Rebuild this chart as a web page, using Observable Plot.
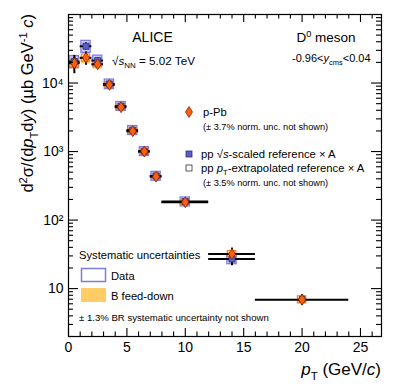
<!DOCTYPE html>
<html><head><meta charset="utf-8">
<script src="https://cdn.jsdelivr.net/npm/d3@7"></script>
<script src="https://cdn.jsdelivr.net/npm/@observablehq/plot@0.6"></script>
<style>body{margin:0;background:#fff} svg{display:block}</style>
</head><body><div id="chart"></div>
<script>
// ---- data ----
const ptCenter = [0.5, 1.5, 2.5, 3.5, 4.5, 5.5, 6.5, 7.5, 10, 14, 20];
const ptLow    = [0, 1, 2, 3, 4, 5, 6, 7, 8, 12, 16];
const ptHigh   = [1, 2, 3, 4, 5, 6, 7, 8, 12, 16, 24];
const pPbValue   = [19500, 23300, 18800, 9400, 4440, 1980, 1000, 431, 182, 32, 6.9];
const pPbStatRel = [0.30, 0.22, 0.12, 0.08, 0.06, 0.05, 0.06, 0.08, 0.07, 0.22, 0.18];
const pPbSysRel  = [0.12, 0.12, 0.10, 0.09, 0.09, 0.09, 0.09, 0.09, 0.09, 0.10, 0.12];
const feedDownLowRel  = [0.18, 0.18, 0.15, 0.14, 0.12, 0.10, 0.10, 0.10, 0.10, 0.10, 0.10];
const feedDownHighRel = [0.06, 0.06, 0.05, 0.04, 0.04, 0.04, 0.04, 0.04, 0.04, 0.04, 0.04];

const ppScaledPt    = [0.5, 1.5, 2.5, 3.5, 4.5, 5.5, 6.5, 7.5, 10, 14];
const ppScaledLow   = [0, 1, 2, 3, 4, 5, 6, 7, 8, 12];
const ppScaledHigh  = [1, 2, 3, 4, 5, 6, 7, 8, 12, 16];
const ppScaledValue = [20600, 34400, 21300, 9700, 4600, 2050, 1010, 440, 186, 27];
const ppScaledStatRel = [0.15, 0.12, 0.08, 0.06, 0.05, 0.05, 0.06, 0.07, 0.07, 0.20];
const ppScaledSysRel  = [0.20, 0.20, 0.18, 0.16, 0.15, 0.15, 0.15, 0.15, 0.15, 0.16];

const ppExtrapPt    = [20];
const ppExtrapValue = [7.0];

const xTicks = [0, 5, 10, 15, 20, 25];
const xTickLabels = ["0", "5", "10", "15", "20", "25"];
const yTicks = [10, 100, 1000, 10000];
const yTickLabels = ["10", "10²", "10³", "10⁴"];

// ---- tables ----
const pPb = ptCenter.map((c, i) => ({c, lo: ptLow[i], hi: ptHigh[i], v: pPbValue[i],
  stat: pPbStatRel[i], sys: pPbSysRel[i], fdl: feedDownLowRel[i], fdh: feedDownHighRel[i]}));
const pp = ppScaledPt.map((c, i) => ({c, lo: ppScaledLow[i], hi: ppScaledHigh[i], v: ppScaledValue[i],
  stat: ppScaledStatRel[i], sys: ppScaledSysRel[i]}));
const ppEx = ppExtrapPt.map((c, i) => ({c, v: ppExtrapValue[i]}));

const W = 399, H = 387, mL = 68, mR = 18, mT = 14, mB = 51;
const plotW = W - mL - mR, plotH = H - mT - mB;
const xMinor = d3.range(0, 27).filter(d => d % 5 !== 0);
const yMinor = [];
for (const dec of [1, 10, 100, 1000, 10000]) for (let k = 2; k <= 9; k++) { const v = k * dec; if (v >= 2 && v <= 1e5) yMinor.push(v); }

const tallDiamond = {draw(ctx, size) { const s = Math.sqrt(size); const w = s * 0.45, h = s * 0.7;
  ctx.moveTo(0, -h); ctx.lineTo(w, 0); ctx.lineTo(0, h); ctx.lineTo(-w, 0); ctx.closePath(); }};

const bw = 0.4; // half width of systematic boxes (pT units)
const font = "'Liberation Sans', Arial, Helvetica, sans-serif";

const chart = Plot.plot({
  width: W, height: H,
  marginLeft: mL, marginRight: mR, marginTop: mT, marginBottom: mB,
  style: {fontFamily: font, fontSize: "14px", color: "black", background: "white"},
  x: {domain: [0, 26.8]},
  y: {type: "log", domain: [2, 1e5]},
  marks: [
    Plot.rect(pPb, {x1: d => d.c - bw, x2: d => d.c + bw, y1: d => d.v * (1 - d.fdl), y2: d => d.v * (1 + d.fdh), fill: "#ffcc66"}),
    Plot.rect(pp, {x1: d => d.c - bw, x2: d => d.c + bw, y1: d => d.v * (1 - d.sys), y2: d => d.v * (1 + d.sys), fill: "#9a9ae6", fillOpacity: 0.55, stroke: "#7b7be0", strokeWidth: 1.2}),
    Plot.rect(pPb, {x1: d => d.c - bw * 0.9, x2: d => d.c + bw * 0.9, y1: d => d.v * (1 - d.sys), y2: d => d.v * (1 + d.sys), fill: "none", stroke: "#ff7f2a", strokeWidth: 1.2}),
    Plot.ruleY(pp, {y: "v", x1: "lo", x2: "hi", stroke: "black", strokeWidth: 2}),
    Plot.ruleX(pp, {x: "c", y1: d => d.v * (1 - d.stat), y2: d => d.v * (1 + d.stat), stroke: "black", strokeWidth: 2}),
    Plot.ruleY(pPb, {y: "v", x1: "lo", x2: "hi", stroke: "black", strokeWidth: 2}),
    Plot.ruleX(pPb, {x: "c", y1: d => d.v * (1 - d.stat), y2: d => d.v * (1 + d.stat), stroke: "black", strokeWidth: 2}),
    Plot.dot(ppEx, {x: "c", y: "v", symbol: "square", r: 3.2, fill: "white", stroke: "#333", strokeWidth: 1}),
    Plot.dot(pp, {x: "c", y: "v", symbol: "square", r: 3.4, fill: "#5c5cc4", stroke: "#2d2d80", strokeWidth: 0.8}),
    Plot.dot(pPb, {x: "c", y: "v", symbol: tallDiamond, r: 4.4, fill: "#ff5e0e", stroke: "#7a2a00", strokeWidth: 0.8}),
    Plot.frame({stroke: "black", strokeWidth: 1.2}),
    Plot.tickX(xTicks, {x: d => d, insetTop: plotH - 8, stroke: "black", strokeWidth: 1.1}),
    Plot.tickX(xMinor, {x: d => d, insetTop: plotH - 4.5, stroke: "black", strokeWidth: 1.1}),
    Plot.tickX(xTicks, {x: d => d, insetBottom: plotH - 8, stroke: "black", strokeWidth: 1.1}),
    Plot.tickX(xMinor, {x: d => d, insetBottom: plotH - 4.5, stroke: "black", strokeWidth: 1.1}),
    Plot.tickY(yTicks, {y: d => d, insetRight: plotW - 10, stroke: "black", strokeWidth: 1.1}),
    Plot.tickY(yMinor, {y: d => d, insetRight: plotW - 5, stroke: "black", strokeWidth: 1.1}),
    Plot.tickY(yTicks, {y: d => d, insetLeft: plotW - 10, stroke: "black", strokeWidth: 1.1}),
    Plot.tickY(yMinor, {y: d => d, insetLeft: plotW - 5, stroke: "black", strokeWidth: 1.1}),
    Plot.axisX({ticks: xTicks, tickFormat: d => xTickLabels[xTicks.indexOf(d)], tickSize: 0, tickPadding: 6, label: null, fontSize: 14}),
    Plot.axisY({ticks: yTicks, tickFormat: d => yTickLabels[yTicks.indexOf(d)], tickSize: 0, tickPadding: 5, label: null, fontSize: 14})
  ]
});
document.getElementById("chart").appendChild(chart);

// ---- annotations (rich text) ----
const svg = d3.select(chart);
const g = svg.append("g").attr("font-family", font).attr("fill", "black");
function rich(x, y, parts, fs, anchor = "start", transform = null) {
  const t = g.append("text").attr("x", x).attr("y", y).attr("font-size", fs).attr("text-anchor", anchor);
  if (transform) t.attr("transform", transform);
  let shift = 0;
  for (const p of parts) {
    const [s, kind] = Array.isArray(p) ? p : [p, ""];
    const sp = t.append("tspan").text(s);
    let target = 0;
    if (kind.includes("sup")) { target = -0.38 * fs; sp.attr("font-size", fs * 0.68); }
    if (kind.includes("sub")) { target = 0.28 * fs; sp.attr("font-size", fs * 0.68); }
    if (kind.includes("i")) sp.attr("font-style", "italic");
    if (target !== shift) { sp.attr("dy", target - shift); shift = target; }
  }
  return t;
}
rich(152.5, 42, ["ALICE"], 14, "middle");
rich(112, 65, [["√", ""], ["s", "i"], ["NN", "sub"], " = 5.02 TeV"], 11.7);
rich(326, 42, ["D", ["0", "sup"], " meson"], 13.5, "middle");
rich(292, 62, ["-0.96<", ["y", "i"], ["cms", "sub"], "<0.04"], 11);

rich(203, 116, ["p-Pb"], 11.2);
rich(203, 130, ["(± 3.7% norm. unc. not shown)"], 9.2);
rich(201, 158, ["pp ", "√", ["s", "i"], "-scaled reference × A"], 11.3);
rich(201, 172, ["pp ", ["p", "i"], ["T", "sub"], "-extrapolated reference × A"], 11.3);
rich(203, 186, ["(± 3.5% norm. unc. not shown)"], 9.2);

// legend symbols
g.append("path").attr("d", d3.symbol(tallDiamond, 4.4 * 4.4 * Math.PI)()).attr("transform", "translate(189,112)").attr("fill", "#ff5e0e").attr("stroke", "#7a2a00").attr("stroke-width", 0.8);
g.append("rect").attr("x", 186).attr("y", 151).attr("width", 6).attr("height", 6).attr("fill", "#5c5cc4").attr("stroke", "#2d2d80").attr("stroke-width", 0.8);
g.append("rect").attr("x", 186).attr("y", 165).attr("width", 6).attr("height", 6).attr("fill", "white").attr("stroke", "#333").attr("stroke-width", 0.8);

rich(79, 259, ["Systematic uncertainties"], 11.2);
g.append("rect").attr("x", 81.5).attr("y", 268.5).attr("width", 24).attr("height", 13).attr("fill", "none").attr("stroke", "#7b7be0").attr("stroke-width", 1.5);
rich(111, 280, ["Data"], 11.2);
g.append("rect").attr("x", 81).attr("y", 288).attr("width", 25).attr("height", 14).attr("fill", "#ffcc66");
rich(111, 300, ["B feed-down"], 11.2);
rich(79, 321, ["± 1.3% BR systematic uncertainty not shown"], 9.6);

// axis titles
rich(381, 375, [["p", "i"], ["T", "sub"], " (GeV/", ["c", "i"], ")"], 17, "end");
rich(0, 0, ["d", ["2", "sup"], "σ/(d", ["p", "i"], ["T", "sub"], "d", ["y", "i"], ") (µb GeV", ["-1", "sup"], " ", ["c", "i"], ")"], 16.5, "end", "translate(33,14) rotate(-90)");
</script></body></html>
